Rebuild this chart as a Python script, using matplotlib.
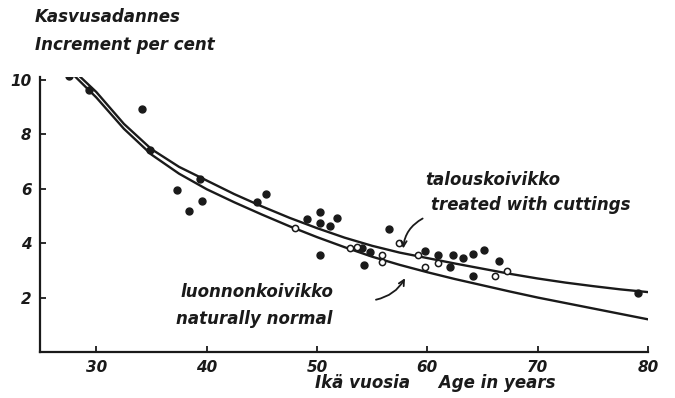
import numpy as np
import matplotlib.pyplot as plt

# curves (age, increment %)
talous_age = [28.3, 30, 32.5, 35, 37.5, 40, 42.5, 45, 47.5, 50, 52.5, 55, 57.5, 60,
              62.5, 65, 67.5, 70, 72.5, 75, 77.5, 80]
talous_inc = [10.2, 9.55, 8.38, 7.45, 6.8, 6.3, 5.8, 5.35, 4.93, 4.55, 4.2, 3.9, 3.65, 3.45,
              3.25, 3.06, 2.87, 2.7, 2.55, 2.42, 2.3, 2.2]
luonnon_age = [28.0, 30, 32.5, 35, 37.5, 40, 42.5, 45, 47.5, 50, 52.5, 55, 57.5, 60,
               62.5, 65, 67.5, 70, 72.5, 75, 77.5, 80]
luonnon_inc = [10.15, 9.35, 8.2, 7.25, 6.55, 5.98, 5.5, 5.05, 4.62, 4.22, 3.85, 3.5, 3.2, 2.93,
               2.68, 2.45, 2.22, 2.0, 1.8, 1.6, 1.4, 1.2]

# observed stands, filled dots
dot_age = [27.5, 29.3, 34.1, 34.9, 37.3, 38.4, 39.6, 39.4, 44.6, 45.4, 49.1, 50.3, 50.3, 51.2,
           51.8, 50.3, 56.5, 54.1, 54.8, 54.3, 59.8, 61.0, 62.3, 63.2, 64.1, 65.1, 66.5, 64.1,
           62.1, 79.1]
dot_inc = [10.15, 9.63, 8.93, 7.42, 5.95, 5.17, 5.53, 6.35, 5.51, 5.80, 4.88, 5.14, 4.73, 4.62,
           4.92, 3.55, 4.51, 3.81, 3.66, 3.19, 3.70, 3.55, 3.55, 3.44, 3.59, 3.74, 3.33, 2.78,
           3.11, 2.15]
# open circles
ring_age = [48.0, 53.0, 53.6, 55.9, 55.9, 57.4, 59.2, 59.8, 61.0, 66.1, 67.2]
ring_inc = [4.55, 3.81, 3.85, 3.55, 3.30, 4.00, 3.55, 3.11, 3.26, 2.78, 2.96]

xticks = [30, 40, 50, 60, 70, 80]
yticks = [2, 4, 6, 8, 10]

ink = '#1a1a1a'
fnt = dict(family='DejaVu Sans', style='italic', weight='bold', color=ink)

fig = plt.figure(figsize=(6.75, 3.98), dpi=100)
ax = fig.add_axes([40/675, 1 - 352/398, (648 - 40)/675, (352 - 77)/398])

ax.plot(talous_age, talous_inc, color=ink, lw=1.7, solid_capstyle='round', solid_joinstyle='round')
ax.plot(luonnon_age, luonnon_inc, color=ink, lw=1.7, solid_capstyle='round', solid_joinstyle='round')
ax.plot(dot_age, dot_inc, 'o', color=ink, ms=5, zorder=3)
ax.plot(ring_age, ring_inc, 'o', mfc='white', mec=ink, mew=1.1, ms=4.5, zorder=3)

ax.set_xlim(24.9, 80)
ax.set_ylim(0, 10.1)
ax.set_xticks(xticks)
ax.set_yticks(yticks)
ax.set_xticklabels([str(t) for t in xticks], fontsize=11, **fnt)
ax.set_yticklabels([str(t) for t in yticks], fontsize=11, **fnt)
ax.tick_params(direction='in', length=4, width=1.3, color=ink, pad=6)
for s in ['top', 'right']:
    ax.spines[s].set_visible(False)
for s in ['left', 'bottom']:
    ax.spines[s].set_linewidth(1.6)
    ax.spines[s].set_color(ink)

# titles and labels
fig.text(35/675, 1 - 17/398, 'Kasvusadannes', fontsize=12, va='center', **fnt)
fig.text(35/675, 1 - 45/398, 'Increment per cent', fontsize=12, va='center', **fnt)
fig.text(315/675, 1 - 383/398, 'Ikä vuosia     Age in years', fontsize=12, va='center', **fnt)

ax.text(59.8, 6.3, 'talouskoivikko', fontsize=12, va='center', **fnt)
ax.text(60.3, 5.4, 'treated with cuttings', fontsize=12, va='center', **fnt)
ax.text(37.6, 2.2, 'luonnonkoivikko', fontsize=12, va='center', **fnt)
ax.text(37.2, 1.23, 'naturally normal', fontsize=12, va='center', **fnt)

ax.annotate('', xy=(57.8, 3.7), xytext=(59.8, 4.95),
            arrowprops=dict(arrowstyle='->', color=ink, lw=1.3,
                            connectionstyle='arc3,rad=0.3'))
ax.annotate('', xy=(58.1, 2.8), xytext=(55.1, 1.9),
            arrowprops=dict(arrowstyle='->', color=ink, lw=1.3,
                            connectionstyle='arc3,rad=0.25'))

fig.savefig('out.png', dpi=100, facecolor='white')
